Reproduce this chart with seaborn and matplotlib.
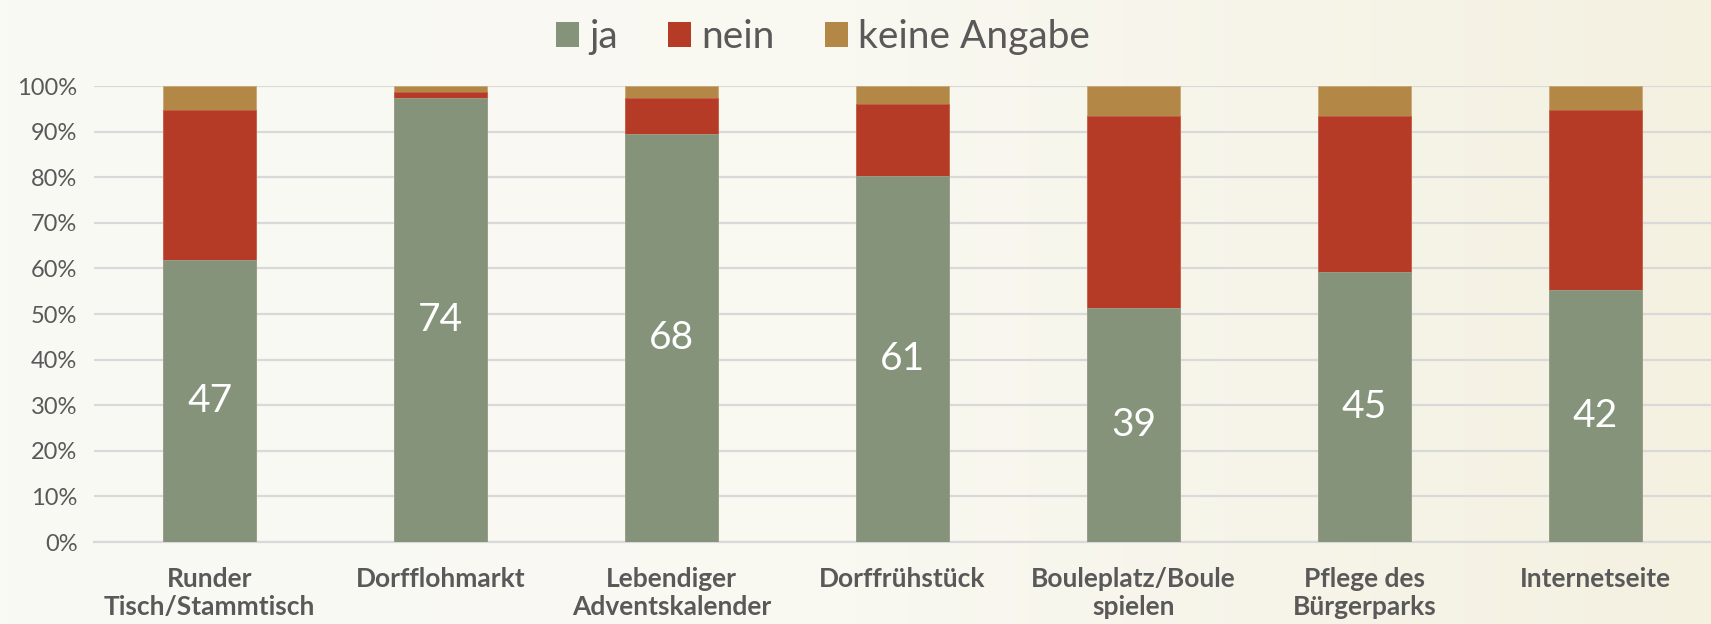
import numpy as np
import pandas as pd
import matplotlib
matplotlib.use("Agg")
import matplotlib.pyplot as plt
import seaborn as sns
from matplotlib.colors import LinearSegmentedColormap
from matplotlib.patches import Patch

# Antworten je Angebot (Anzahl Personen)
categories = ["Runder\nTisch/Stammtisch", "Dorfflohmarkt", "Lebendiger\nAdventskalender",
              "Dorffrühstück", "Bouleplatz/Boule\nspielen", "Pflege des\nBürgerparks",
              "Internetseite"]
ja = [47, 74, 68, 61, 39, 45, 42]
nein = [25, 1, 6, 12, 32, 26, 30]
keine_angabe = [4, 1, 2, 3, 5, 5, 4]

colors = {"ja": "#84937A", "nein": "#B53B26", "keine Angabe": "#B38746"}
text_grey = "#595959"

df = pd.DataFrame({"Angebot": categories, "ja": ja, "nein": nein, "keine Angabe": keine_angabe})
total = df[["ja", "nein", "keine Angabe"]].sum(axis=1)
df["p_ja"] = df["ja"] / total
df["p_nein"] = df["nein"] / total
df["p_ka"] = df["keine Angabe"] / total
df["top_ja"] = df["p_ja"]
df["top_nein"] = df["p_ja"] + df["p_nein"]
df["top_ka"] = df["top_nein"] + df["p_ka"]

sns.set_theme(style="white")
plt.rcParams["font.family"] = ["Lato", "DejaVu Sans"]

fig = plt.figure(figsize=(17.11, 6.24), dpi=100)

# hintergrund mit leichtem verlauf
bg = fig.add_axes([0, 0, 1, 1], zorder=-10)
cmap = LinearSegmentedColormap.from_list("bg", ["#FAFAF5", "#F9F8F1", "#F4F1E1"])
grad = np.linspace(0, 1, 256).reshape(1, -1)
bg.imshow(grad, aspect="auto", cmap=cmap, extent=[0, 1, 0, 1])
bg.axis("off")

ax = fig.add_axes([0.055, 0.1314, 0.945, 0.7306])
ax.set_facecolor("none")

# gestapelt: von oben nach unten zeichnen
sns.barplot(data=df, x="Angebot", y="top_ka", color=colors["keine Angabe"], width=0.4,
            saturation=1, ax=ax, edgecolor="#C9A773", linewidth=0.6, zorder=2)
sns.barplot(data=df, x="Angebot", y="top_nein", color=colors["nein"], width=0.4,
            saturation=1, ax=ax, edgecolor="#C9604C", linewidth=0.6, zorder=3)
sns.barplot(data=df, x="Angebot", y="top_ja", color=colors["ja"], width=0.4,
            saturation=1, ax=ax, edgecolor="#98A48F", linewidth=0.6, zorder=4)

for i, (val, p) in enumerate(zip(df["ja"], df["p_ja"])):
    ax.text(i, p / 2, f"{val}", ha="center", va="center", color="white",
            fontsize=28, zorder=5)

ax.set_ylim(0, 1)
ax.set_xlim(-0.5, len(categories) - 0.5)
ax.set_yticks(np.arange(0, 1.01, 0.1))
ax.set_yticklabels([f"{int(round(t * 100))}%" for t in np.arange(0, 1.01, 0.1)],
                   fontsize=17, color=text_grey)
ax.set_xticks(range(len(categories)))
ax.set_xticklabels(categories, fontsize=19, fontweight="bold", color=text_grey,
                   linespacing=1.2)
ax.tick_params(axis="both", length=0)
ax.tick_params(axis="x", pad=18)
ax.tick_params(axis="y", pad=12)
ax.set_xlabel("")
ax.set_ylabel("")

ax.yaxis.grid(True, color="#D9D9D9", linewidth=1.6, zorder=0)
ax.set_axisbelow(True)
for s in ["top", "right", "left"]:
    ax.spines[s].set_visible(False)
ax.spines["bottom"].set_color("#D9D9D9")
ax.spines["bottom"].set_linewidth(1.6)

handles = [Patch(facecolor=colors[k], edgecolor="none", label=k) for k in ["ja", "nein", "keine Angabe"]]
leg = fig.legend(handles=handles, loc="upper center", bbox_to_anchor=(0.481, 1.025), ncol=3,
                 frameon=False, fontsize=28, handlelength=0.6, handleheight=0.6,
                 handletextpad=0.25, columnspacing=1.3)
for t in leg.get_texts():
    t.set_color(text_grey)

fig.savefig("out.png", dpi=100, facecolor=fig.get_facecolor())
